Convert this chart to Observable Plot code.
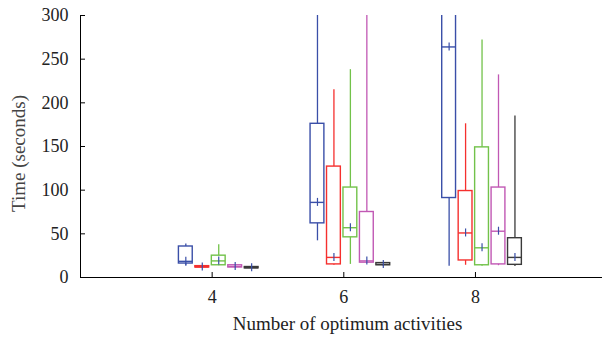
<!DOCTYPE html>
<html><head><meta charset="utf-8">
<script src="https://cdn.jsdelivr.net/npm/d3@7"></script>
<script src="https://cdn.jsdelivr.net/npm/@observablehq/plot@0.6"></script>
<style>body{margin:0;background:#fff} svg{display:block}</style>
</head><body><div id="chart"></div>
<script>
const groups = [4, 6, 8];
const seriesNames = ["Series 1", "Series 2", "Series 3", "Series 4", "Series 5"];
const seriesColors = ["#3a4fa8", "#f5302e", "#72c24a", "#c158b4", "#3a3a3a"];
// per series, values for groups 4, 6, 8
const whiskerLow  = [[13, 42, 13], [11, 14, 14], [13.5, 15, 13], [11, 16, 13.5], [10, 13, 12.5]];
const quartile1   = [[16, 62, 91], [11.5, 15, 19.5], [14, 46, 14], [11.5, 17, 15], [10.5, 14, 14.5]];
const medians     = [[18.5, 86, 264], [12, 23, 51], [19, 57, 34], [12.6, 19, 53], [11.2, 15, 23]];
const quartile3   = [[35.5, 176, 330], [13, 127, 99], [25, 103, 149], [14, 75, 103], [12, 16.5, 45]];
const whiskerHigh = [[38.5, 330, 380], [13.5, 215, 176], [37.5, 238, 272], [14.5, 330, 232], [12.5, 17, 185]];
const xTicks = [4, 6, 8];
const yTicks = [0, 50, 100, 150, 200, 250, 300];
const xLabel = "Number of optimum activities";
const yLabel = "Time (seconds)";

const rows = [];
seriesNames.forEach((s, i) => groups.forEach((g, j) => rows.push({
  series: s, si: i, group: g, color: seriesColors[i],
  lo: whiskerLow[i][j], q1: quartile1[i][j], med: medians[i][j], q3: quartile3[i][j], hi: whiskerHigh[i][j]
})));

const boxW = 0.21;
const off = i => -0.4 + 0.25 * i;
const cx = d => d.group + off(d.si);
const bx1 = d => cx(d) - boxW / 2;
const bx2 = d => cx(d) + boxW / 2;
const font = "'Liberation Serif', 'DejaVu Serif', serif";

const chart = Plot.plot({
  width: 602, height: 340,
  marginLeft: 80, marginRight: 0, marginTop: 15, marginBottom: 63,
  x: {domain: [2, 9.93], axis: null},
  y: {domain: [0, 300], axis: null},
  color: {type: "identity"},
  style: {fontFamily: font, background: "#fff", overflow: "visible"},
  marks: [
    // whiskers
    Plot.ruleX(rows, {x: cx, y1: "lo", y2: "q1", stroke: "color", strokeWidth: 1.3, clip: true}),
    Plot.ruleX(rows, {x: cx, y1: "q3", y2: "hi", stroke: "color", strokeWidth: 1.3, clip: true}),
    // boxes
    Plot.rect(rows, {x1: bx1, x2: bx2, y1: "q1", y2: "q3", fill: "none", stroke: "color", strokeWidth: 1.4, clip: true}),
    // medians
    Plot.ruleY(rows, {y: "med", x1: bx1, x2: bx2, stroke: "color", strokeWidth: 1.4, clip: true}),
    // plus markers
    Plot.ruleX(rows, {x: cx, y1: "med", y2: "med", insetTop: -4, insetBottom: -4, stroke: "#3a4fa8", strokeWidth: 1.2, clip: true}),
    // axes lines
    Plot.ruleX([2], {y1: 0, y2: 300, stroke: "#000", strokeWidth: 1}),
    Plot.ruleY([0], {x1: 2, x2: 9.93, stroke: "#000", strokeWidth: 1}),
    // inward ticks
    Plot.ruleY(yTicks, {y: d => d, x1: 2, x2: 2, insetRight: -5, stroke: "#000"}),
    Plot.ruleX(xTicks, {x: d => d, y1: 0, y2: 0, insetTop: -5, stroke: "#000"}),
    // tick labels
    Plot.text(yTicks, {x: 2, y: d => d, text: d => String(d), textAnchor: "end", dx: -12, fontSize: 18, fill: "#222"}),
    Plot.text(xTicks, {x: d => d, y: 0, text: d => String(d), dy: 20, fontSize: 18, fill: "#222"}),
    // axis labels
    Plot.text([xLabel], {frameAnchor: "bottom", dy: 52, dx: 6, text: d => d, fontSize: 19, fill: "#222"}),
    Plot.text([yLabel], {x: 2, y: 142, dx: -62, rotate: -90, text: d => d, fontSize: 19, fill: "#444", fontWeight: "normal"})
  ]
});
document.getElementById("chart").appendChild(chart);
</script>
</body></html>
